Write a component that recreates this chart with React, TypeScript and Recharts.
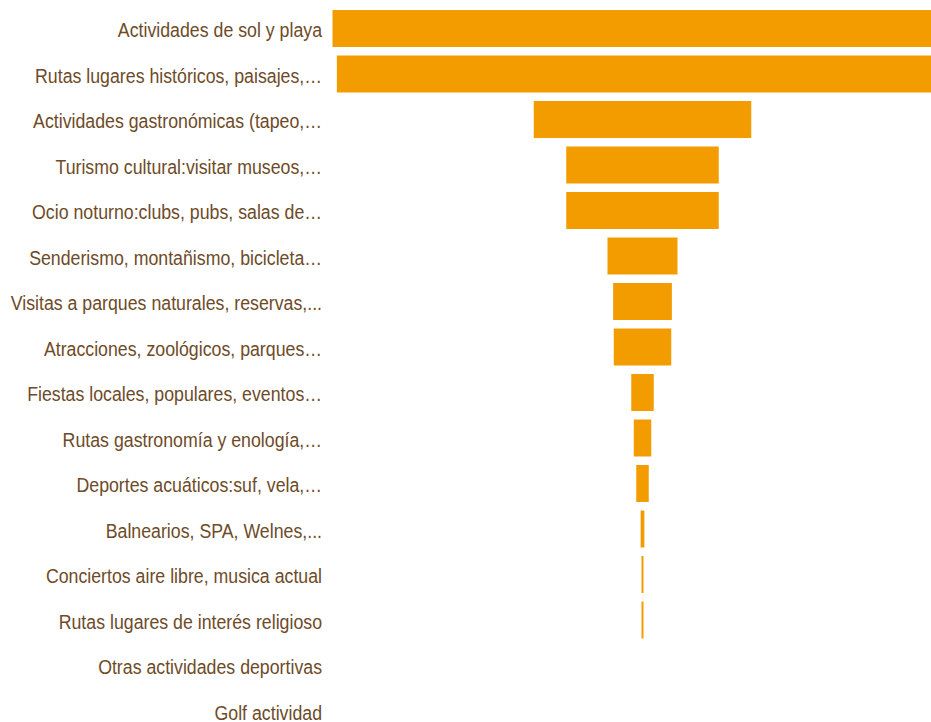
import React from "react";
import { BarChart, Bar, XAxis, YAxis } from "recharts";

const categories: string[] = [
  "Actividades de sol y playa",
  "Rutas lugares históricos, paisajes,…",
  "Actividades gastronómicas (tapeo,…",
  "Turismo cultural:visitar museos,…",
  "Ocio noturno:clubs, pubs, salas de…",
  "Senderismo, montañismo, bicicleta…",
  "Visitas a parques naturales, reservas,...",
  "Atracciones, zoológicos, parques…",
  "Fiestas locales, populares, eventos…",
  "Rutas gastronomía y enología,…",
  "Deportes acuáticos:suf, vela,…",
  "Balnearios, SPA, Welnes,...",
  "Conciertos aire libre, musica actual",
  "Rutas lugares de interés religioso",
  "Otras actividades deportivas",
  "Golf actividad",
];

const values: number[] = [49.6, 48.9, 17.4, 12.2, 12.2, 5.6, 4.7, 4.6, 1.8, 1.4, 1.0, 0.3, 0.16, 0.16, 0, 0];

const DOMAIN_MAX = 50;

const data = categories.map((name, i) => ({
  name,
  offset: (DOMAIN_MAX - values[i]) / 2,
  value: values[i],
}));

const NarrowTick = (props: any) => {
  const { x, y, payload } = props;
  return (
    <g transform={`translate(${x},${y})`}>
      <text
        transform="scale(0.845,1)"
        textAnchor="end"
        dy="0.4em"
        fill="#6e4b28"
        fontSize={21}
        fontFamily="'Liberation Sans', Arial, sans-serif"
      >
        {payload.value}
      </text>
    </g>
  );
};

export default function App() {
  return (
    <div style={{ position: "absolute", left: 0, top: 0, width: 931, height: 722, overflow: "hidden", background: "#fff" }}>
      <BarChart
        width={955}
        height={734}
        data={data}
        layout="vertical"
        margin={{ top: 6, right: 0, bottom: 0, left: 0 }}
        barSize={37}
      >
        <XAxis type="number" domain={[0, DOMAIN_MAX]} hide />
        <YAxis
          type="category"
          dataKey="name"
          width={330}
          axisLine={false}
          tickLine={false}
          interval={0}
          tick={<NarrowTick />}
        />
        <Bar dataKey="offset" stackId="a" fill="transparent" isAnimationActive={false} />
        <Bar dataKey="value" stackId="a" fill="#f39c00" isAnimationActive={false} />
      </BarChart>
    </div>
  );
}
